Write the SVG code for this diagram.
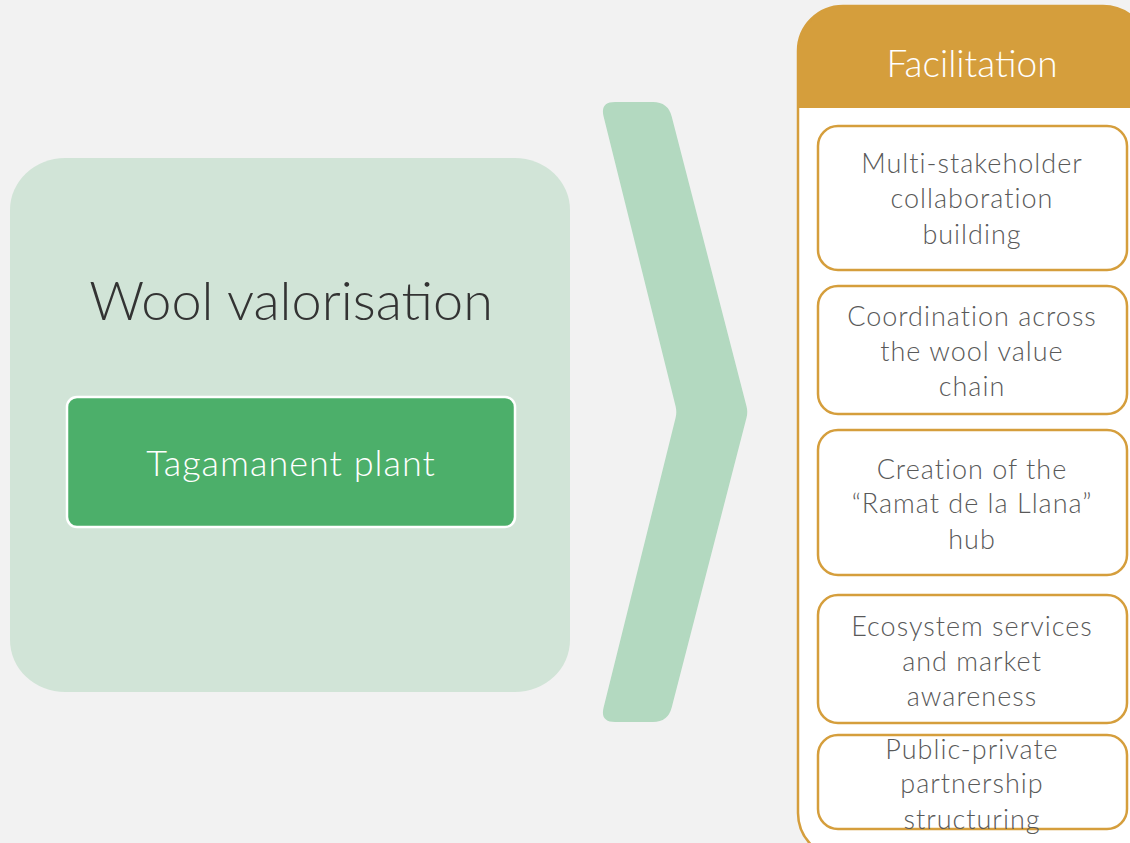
<svg xmlns="http://www.w3.org/2000/svg" width="1130" height="843" viewBox="0 0 1130 843">
<style>
.t{font-family:Lato,"Noto Sans","Liberation Sans",sans-serif;font-weight:300;text-anchor:middle}
.item{fill:#ffffff;stroke:#d59e3c;stroke-width:2.5}
.it{fill:#595959;font-size:27px;letter-spacing:1px}
</style>
<rect x="0" y="0" width="1130" height="843" fill="#f2f2f2"/>
<g id="wool-valorisation">
<rect x="10" y="158" width="560" height="534" rx="55" ry="52" fill="#d1e4d7"/>
<text class="t" x="291" y="320" font-size="54" fill="#333333">Wool valorisation</text>
</g>
<g id="tagamanent-plant">
<rect x="67" y="397" width="448" height="130" rx="10" fill="#4caf6a" stroke="#ffffff" stroke-width="2.5"/>
<text class="t" x="291" y="476" font-size="36" fill="#ffffff" letter-spacing="1">Tagamanent plant</text>
</g>
<g id="connectors">
<path d="M615,102 H653 Q668,102 671.7,116.5 L746.5,406.2 Q748,412 746.5,417.8 L671.7,707.5 Q668,722 653,722 H615 Q600,722 603.6,707.4 L675.6,417.8 Q677,412 675.6,406.2 L603.6,116.6 Q600,102 615,102 Z" fill="#b3d9c0"/>
</g>
<g id="facilitation">
<rect x="798" y="6" width="350" height="852" rx="45" fill="#ffffff"/>
<path d="M798,108 V51 A45,45 0 0 1 843,6 H1103 A45,45 0 0 1 1148,51 V108 Z" fill="#d59e3c"/>
<rect x="798" y="6" width="350" height="852" rx="45" fill="none" stroke="#d59e3c" stroke-width="2.5"/>
<text class="t" x="972" y="77" font-size="37" fill="#ffffff">Facilitation</text>
</g>
<g id="multi-stakeholder">
<rect class="item" x="818" y="126" width="309" height="144" rx="20"/>
<text class="t it" x="972" y="173">Multi-stakeholder</text>
<text class="t it" x="972" y="208">collaboration</text>
<text class="t it" x="972" y="244">building</text>
</g>
<g id="coordination">
<rect class="item" x="818" y="286" width="309" height="128" rx="20"/>
<text class="t it" x="972" y="326">Coordination across</text>
<text class="t it" x="972" y="361">the wool value</text>
<text class="t it" x="972" y="396">chain</text>
</g>
<g id="ramat-hub">
<rect class="item" x="818" y="430" width="309" height="145" rx="20"/>
<text class="t it" x="972" y="479">Creation of the</text>
<text class="t it" x="972" y="513">“Ramat de la Llana”</text>
<text class="t it" x="972" y="549">hub</text>
</g>
<g id="ecosystem-services">
<rect class="item" x="818" y="595" width="309" height="128" rx="20"/>
<text class="t it" x="972" y="636">Ecosystem services</text>
<text class="t it" x="972" y="671">and market</text>
<text class="t it" x="972" y="706">awareness</text>
</g>
<g id="public-private">
<rect class="item" x="818" y="735" width="309" height="94" rx="20"/>
<text class="t it" x="972" y="759">Public-private</text>
<text class="t it" x="972" y="793">partnership</text>
<text class="t it" x="972" y="829">structuring</text>
</g>
</svg>
